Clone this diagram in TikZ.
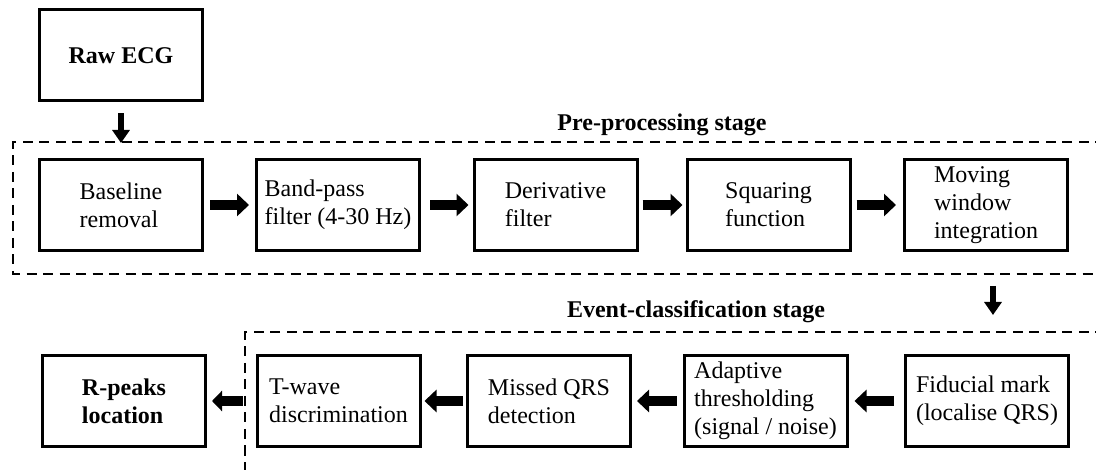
\documentclass[tikz,border=0pt]{standalone}
\usepackage{fontspec}
\setmainfont{Liberation Serif}
\usetikzlibrary{arrows.meta}

\tikzset{
  stepbox/.style={draw, line width=3pt, minimum width=163pt, minimum height=91pt,
    inner sep=0pt, align=left, font=\fontsize{24}{28}\selectfont},
  flow/.style={line width=10pt, -{Triangle[width=22pt,length=12pt]}},
  drop/.style={line width=6.5pt, -{Triangle[width=17pt,length=13pt]}},
  stageframe/.style={line width=1.5pt, dash pattern=on 10pt off 6.5pt},
  stagelabel/.style={font=\fontsize{24}{28}\selectfont\bfseries, inner sep=0pt, anchor=base},
}

\begin{document}
\begin{tikzpicture}[x=1pt, y=-1pt]
  \useasboundingbox (0,0) rectangle (1096,470);
  \clip (0,0) rectangle (1096,470);

  % stage frames (open to the right and bottom)
  \draw[stageframe] (1105,142) -- (13,142) -- (13,274) -- (1105,274);
  \draw[stageframe] (1105,332) -- (245,332) -- (245,480);
  \node[stagelabel] (prelabel) at (662,131) {Pre-processing stage};
  \node[stagelabel] (evlabel) at (696,318) {Event-classification stage};

  % input
  \node[stepbox, font=\fontsize{24}{28}\selectfont\bfseries, align=center] (raw) at (121,55.5) {Raw ECG};

  % pre-processing chain
  \node[stepbox] (base) at (121,205) {Baseline\\removal};
  \node[stepbox] (band) at (338,205) {Band-pass\\filter (4-30 Hz)};
  \node[stepbox] (deriv) at (555.5,205) {Derivative\\filter};
  \node[stepbox] (square) at (768.5,205) {Squaring\\function};
  \node[stepbox] (mwi) at (986,205) {Moving\\window\\integration};

  % event-classification chain
  \node[stepbox] (fid) at (987,401) {Fiducial mark\\(localise QRS)};
  \node[stepbox] (adapt) at (765.5,401) {Adaptive\\thresholding\\(signal / noise)};
  \node[stepbox] (missed) at (549,401) {Missed QRS\\detection};
  \node[stepbox] (twave) at (338.5,401) {T-wave\\discrimination};
  \node[stepbox, font=\fontsize{24}{28}\selectfont\bfseries] (rpeaks) at (124,401) {R-peaks\\location};

  % connectors
  \draw[drop, shorten <=11pt, shorten >=15pt] (raw) -- (base);
  \draw[flow, shorten <=6pt, shorten >=6pt] (base) -- (band);
  \draw[flow, shorten <=9pt, shorten >=4pt] (band) -- (deriv);
  \draw[flow, shorten <=4pt, shorten >=3pt] (deriv) -- (square);
  \draw[flow, shorten <=5pt, shorten >=7pt] (square) -- (mwi);
  \draw[drop, shorten <=34pt, shorten >=39pt] ([xshift=7pt]mwi.south) -- ([xshift=6pt]fid.north);
  \draw[flow, shorten <=10pt, shorten >=6pt] (fid) -- (adapt);
  \draw[flow, shorten <=6pt, shorten >=5pt] (adapt) -- (missed);
  \draw[flow, shorten <=3pt, shorten >=3pt] (missed) -- (twave);
  \draw[flow, -{Triangle[width=20pt,length=10pt]}, shorten <=13pt, shorten >=5pt] (twave) -- (rpeaks);
\end{tikzpicture}
\end{document}
